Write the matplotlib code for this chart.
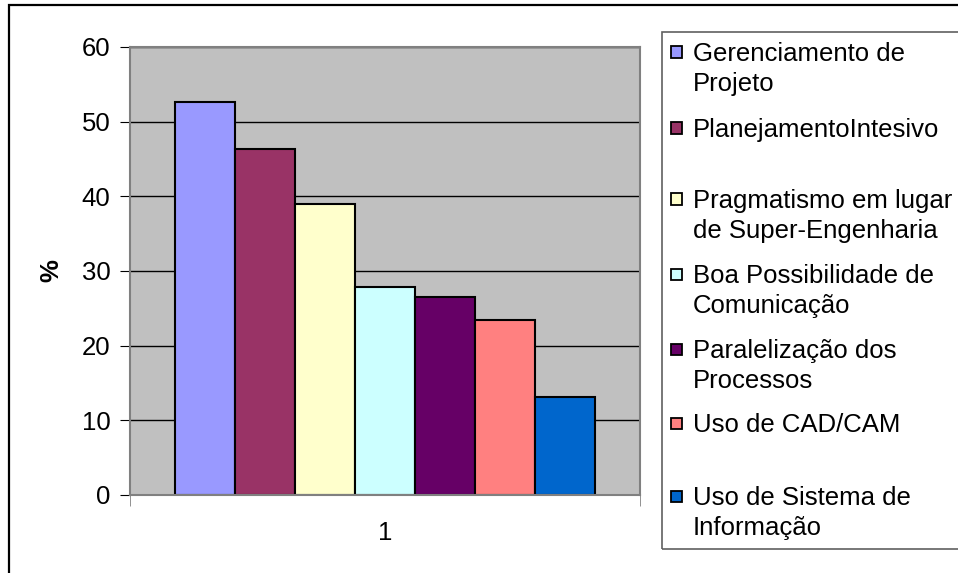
import matplotlib
matplotlib.use('Agg')
import matplotlib.pyplot as plt
from matplotlib.patches import Rectangle

plt.rcParams['font.family'] = ['Liberation Sans', 'DejaVu Sans']

categories = ['1']
labels = ['Gerenciamento de\nProjeto', 'PlanejamentoIntesivo',
          'Pragmatismo em lugar\nde Super-Engenharia', 'Boa Possibilidade de\nComunicação',
          'Paralelização dos\nProcessos', 'Uso de CAD/CAM',
          'Uso de Sistema de\nInformação']
values = [52.7, 46.3, 39.0, 27.8, 26.5, 23.5, 13.1]
colors = ['#9999FF', '#993366', '#FFFFCC', '#CCFFFF', '#660066', '#FF8080', '#0066CC']
yticks = [0, 10, 20, 30, 40, 50, 60]

W, H = 958, 573
FS = 18.5
fig = plt.figure(figsize=(W / 100, H / 100), dpi=100)
fig.patch.set_facecolor('white')

# outer chart frame (runs off the right and bottom edges)
fig.patches.append(Rectangle((9 / W, -0.1), 1.2, 1 - 5 / H + 0.1, transform=fig.transFigure,
                             fill=False, edgecolor='black', linewidth=1.6))

ax = fig.add_axes([130 / W, 78 / H, 510 / W, 448 / H])
ax.set_facecolor('#C0C0C0')
ax.set_axisbelow(True)
ax.yaxis.grid(True, color='black', linewidth=1)

bw = 0.1179
n = len(values)
for i, (v, c) in enumerate(zip(values, colors)):
    ax.bar(1 + (i - (n - 1) / 2) * bw, v, width=bw, color=c, edgecolor='black', linewidth=1.5)

ax.set_xlim(0.5, 1.5)
ax.set_ylim(0, 60)
ax.set_yticks(yticks)
ax.set_xticks([1])
ax.set_xticklabels(categories)
ax.set_xticks([0.5, 1.5], minor=True)
ax.tick_params(axis='x', which='major', length=0, labelsize=FS, pad=19)
ax.tick_params(axis='x', which='minor', length=8, direction='out', color='#808080')
ax.tick_params(axis='y', length=7, direction='out', labelsize=FS, pad=7, color='black')
for s in ax.spines.values():
    s.set_color('#808080')
    s.set_linewidth(1.5)
ax.set_ylabel('%', fontsize=FS, fontweight='bold')
ax.yaxis.set_label_coords(-0.13, 0.5)

# legend box, drawn by hand so wrapped labels keep the key on their first line
fig.patches.append(Rectangle((662 / W, 1 - 549 / H), 1.0, (549 - 32) / H, transform=fig.transFigure,
                             fill=False, edgecolor='#606060', linewidth=1.2))
entry_y = [52, 128, 199, 274, 349, 423, 496]
for lab, c, y in zip(labels, colors, entry_y):
    fig.patches.append(Rectangle((671 / W, 1 - (y + 5.5) / H), 11 / W, 11 / H,
                                 transform=fig.transFigure, facecolor=c,
                                 edgecolor='black', linewidth=1.3))
    for k, line in enumerate(lab.split('\n')):
        fig.text(693 / W, 1 - (y + 9 + 30 * k) / H, line, fontsize=FS,
                 va='baseline', ha='left')

fig.savefig('out.png', dpi=100)
